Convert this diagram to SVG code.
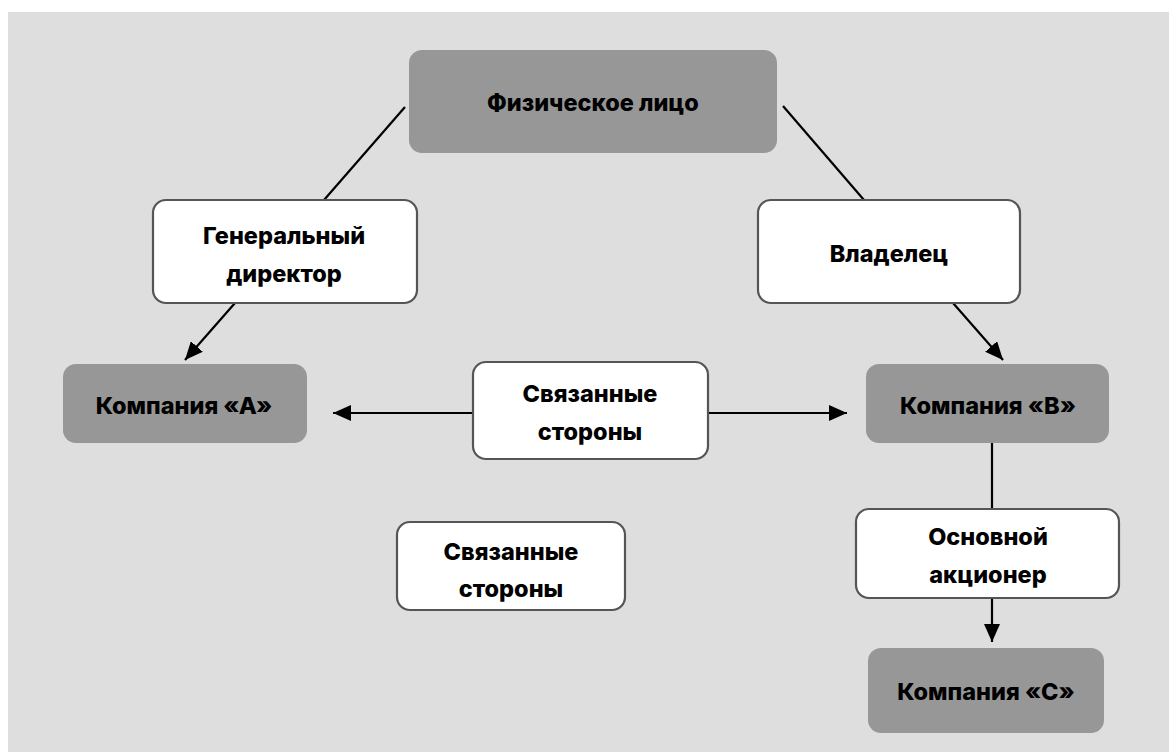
<svg xmlns="http://www.w3.org/2000/svg" width="1169" height="752" viewBox="0 0 1169 752">
<defs>
<style>
.bg{fill:#dedede}
.dark{fill:#979797}
.light{fill:#ffffff;stroke:#555555;stroke-width:2.2}
.t{font-family:Inter,"Noto Sans",sans-serif;font-weight:800;font-size:23.5px;fill:#000;text-anchor:middle}
.c{stroke:#000;stroke-width:2.2;fill:none}
</style>
<marker id="ah" viewBox="0 0 18 16" refX="18" refY="8" markerWidth="18" markerHeight="16" markerUnits="userSpaceOnUse" orient="auto">
<path d="M0,0 L18,8 L0,16 Z" fill="#000"/>
</marker>
</defs>
<rect class="bg" x="8" y="12" width="1161" height="740"/>
<g id="connectors">
<line class="c" x1="405" y1="107" x2="324" y2="200"/>
<line class="c" x1="235" y1="303" x2="185" y2="360" marker-end="url(#ah)"/>
<line class="c" x1="783" y1="106" x2="864" y2="200"/>
<line class="c" x1="953" y1="303" x2="1003" y2="360" marker-end="url(#ah)"/>
<line class="c" x1="472" y1="413" x2="333" y2="413" marker-end="url(#ah)"/>
<line class="c" x1="708" y1="413" x2="847" y2="413" marker-end="url(#ah)"/>
<line class="c" x1="992" y1="443" x2="992" y2="509"/>
<line class="c" x1="992" y1="598" x2="992" y2="642" marker-end="url(#ah)"/>
</g>
<g id="node-person">
<rect class="dark" x="409" y="50" width="368" height="103" rx="13"/>
<text class="t" x="593" y="111">Физическое лицо</text>
</g>
<g id="node-director">
<rect class="light" x="153" y="200" width="264" height="103" rx="13"/>
<text class="t" x="284" y="244">Генеральный</text>
<text class="t" x="284" y="282">директор</text>
</g>
<g id="node-owner">
<rect class="light" x="758" y="200" width="262" height="103" rx="13"/>
<text class="t" x="889" y="262">Владелец</text>
</g>
<g id="node-company-a">
<rect class="dark" x="63" y="364" width="244" height="79" rx="13"/>
<text class="t" x="184" y="414">Компания «А»</text>
</g>
<g id="node-related-1">
<rect class="light" x="473" y="362" width="235" height="97" rx="13"/>
<text class="t" x="590" y="402">Связанные</text>
<text class="t" x="590" y="440">стороны</text>
</g>
<g id="node-company-b">
<rect class="dark" x="866" y="364" width="243" height="79" rx="13"/>
<text class="t" x="988" y="414">Компания «В»</text>
</g>
<g id="node-related-2">
<rect class="light" x="397" y="522" width="228" height="88" rx="13"/>
<text class="t" x="511" y="560">Связанные</text>
<text class="t" x="511" y="597">стороны</text>
</g>
<g id="node-shareholder">
<rect class="light" x="856" y="509" width="263" height="89" rx="13"/>
<text class="t" x="988" y="545">Основной</text>
<text class="t" x="988" y="583">акционер</text>
</g>
<g id="node-company-c">
<rect class="dark" x="868" y="648" width="236" height="85" rx="13"/>
<text class="t" x="986" y="700">Компания «С»</text>
</g>
</svg>
